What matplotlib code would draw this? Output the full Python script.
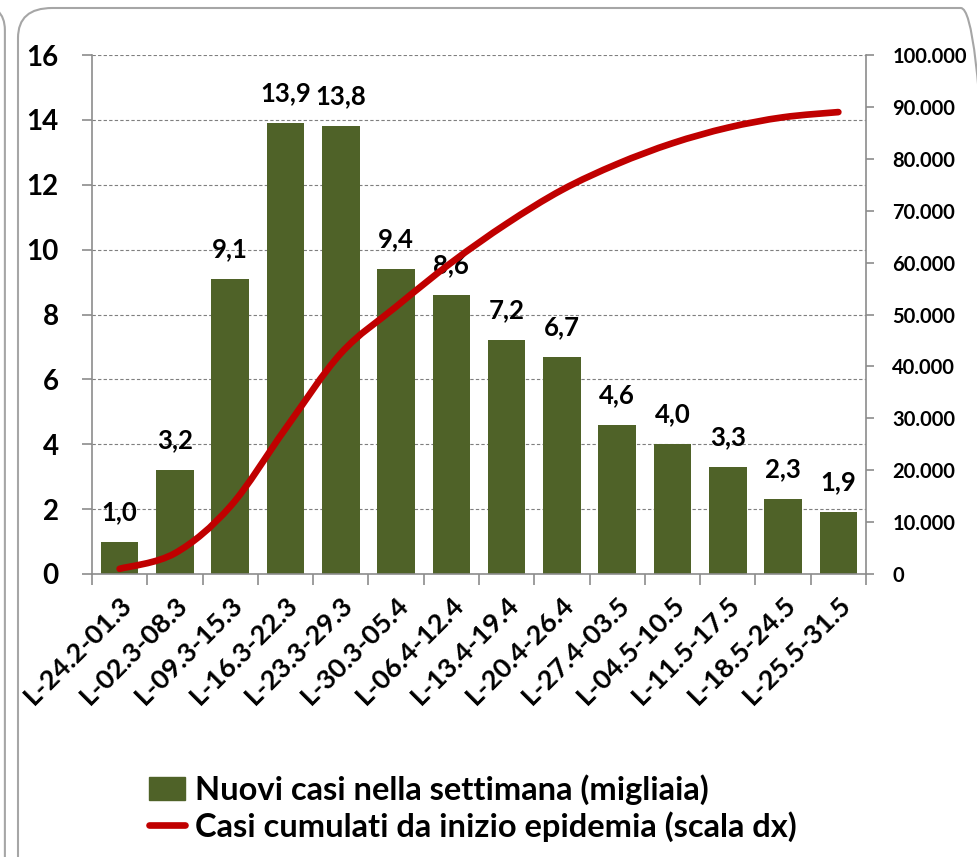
import numpy as np
import matplotlib
matplotlib.use("Agg")
from matplotlib import pyplot as plt
from matplotlib.path import Path
from matplotlib.patches import PathPatch, FancyBboxPatch
from matplotlib.lines import Line2D
from matplotlib.ticker import FuncFormatter

plt.rcParams['font.family'] = ['Lato', 'DejaVu Sans']

# settimane
settimane = ['L-24.2-01.3', 'L-02.3-08.3', 'L-09.3-15.3', 'L-16.3-22.3', 'L-23.3-29.3',
             'L-30.3-05.4', 'L-06.4-12.4', 'L-13.4-19.4', 'L-20.4-26.4', 'L-27.4-03.5',
             'L-04.5-10.5', 'L-11.5-17.5', 'L-18.5-24.5', 'L-25.5-31.5']
nuovi = [1.0, 3.2, 9.1, 13.9, 13.8, 9.4, 8.6, 7.2, 6.7, 4.6, 4.0, 3.3, 2.3, 1.9]
cumulati = [1000, 4000, 13000, 28000, 42500, 51500, 60000, 67500, 74000,
            79000, 83000, 86000, 88000, 89000]

VERDE = '#4F6228'
ROSSO = '#C00000'
GRIGIO = '#8C8C8C'

fig = plt.figure(figsize=(9.77, 8.57), dpi=100)

# cornice arrotondata
fig.patches.append(FancyBboxPatch((18 / 977, -0.05), 1.0, 1.05 - 8 / 857,
                                  boxstyle='round,pad=0,rounding_size=0.035',
                                  transform=fig.transFigure, fill=False,
                                  edgecolor='#A6A6A6', lw=1.5))
fig.patches.append(FancyBboxPatch((-0.05, -0.05), 0.055, 1.045,
                                  boxstyle='round,pad=0,rounding_size=0.03',
                                  transform=fig.transFigure, fill=False,
                                  edgecolor='#A6A6A6', lw=1.5))

ax = fig.add_axes([92 / 977, 1 - 574 / 857, 774 / 977, 519 / 857])
x = np.arange(len(settimane))

ax.bar(x, nuovi, width=0.68, color=VERDE, zorder=2)
ax.set_ylim(0, 16)
ax.set_xlim(-0.5, len(settimane) - 0.5)
ax.set_yticks(range(0, 17, 2))
ax.yaxis.grid(True, color='#7F7F7F', ls=(0, (3, 2)), lw=0.8, zorder=0)

for xi, v in zip(x, nuovi):
    ax.text(xi, v + 0.55, f'{v:.1f}'.replace('.', ','), ha='center', va='bottom',
            fontsize=18.5, fontweight='bold', color='black')

ax.set_xticks(x)
ax.set_xticklabels(settimane, rotation=45, ha='right', rotation_mode='anchor',
                   fontsize=19.5, fontweight='bold')
ax.tick_params(axis='x', which='major', length=0, pad=13)
ax.set_xticks(np.arange(-0.5, len(settimane)), minor=True)
ax.tick_params(axis='x', which='minor', length=8, color=GRIGIO, width=1.2)
ax.tick_params(axis='y', length=7, color=GRIGIO, width=1.2, labelsize=20, pad=17)
for lab in ax.get_yticklabels():
    lab.set_fontweight('bold')

for s in ['top', 'right']:
    ax.spines[s].set_visible(False)
for s in ['left', 'bottom']:
    ax.spines[s].set_color(GRIGIO)
    ax.spines[s].set_linewidth(1.2)

# asse destro
ax2 = ax.twinx()
ax2.set_ylim(0, 100000)
ax2.set_yticks(range(0, 100001, 10000))
ax2.yaxis.set_major_formatter(FuncFormatter(lambda v, p: f'{int(v):,}'.replace(',', '.')))
ax2.tick_params(axis='y', length=6, color=GRIGIO, width=1.2, labelsize=14.5, pad=13)
for lab in ax2.get_yticklabels():
    lab.set_fontweight('bold')
for s in ['top', 'left', 'bottom']:
    ax2.spines[s].set_visible(False)
ax2.spines['right'].set_color(GRIGIO)
ax2.spines['right'].set_linewidth(1.2)

# linea smussata (Bezier tipo Excel)
pts = np.column_stack([x, cumulati]).astype(float)
verts = [tuple(pts[0])]
codes = [Path.MOVETO]
for i in range(len(pts) - 1):
    p0 = pts[i - 1] if i > 0 else pts[i]
    p1, p2 = pts[i], pts[i + 1]
    p3 = pts[i + 2] if i + 2 < len(pts) else pts[i + 1]
    c1 = p1 + (p2 - p0) / 6
    c2 = p2 - (p3 - p1) / 6
    verts += [tuple(c1), tuple(c2), tuple(p2)]
    codes += [Path.CURVE4] * 3
ax2.add_patch(PathPatch(Path(verts, codes), fill=False, edgecolor=ROSSO, lw=4.8,
                        capstyle='round', zorder=3))

# legenda
handles = [plt.Rectangle((0, 0), 1, 1, color=VERDE),
           Line2D([0], [0], color=ROSSO, lw=4.8, solid_capstyle='round')]
labels = ['Nuovi casi nella settimana (migliaia)',
          'Casi cumulati da inizio epidemia (scala dx)']
fig.legend(handles, labels, loc='lower left', bbox_to_anchor=(136 / 977, 2 / 857),
           frameon=False, prop={'size': 23.5, 'weight': 'bold'}, handlelength=1.1,
           handletextpad=0.3, labelspacing=0.18, borderaxespad=0)

fig.savefig('out.png', dpi=100)
